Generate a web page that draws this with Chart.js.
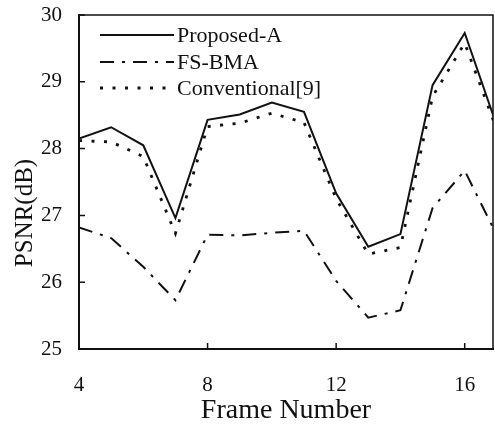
<!DOCTYPE html>
<html>
<head>
<meta charset="utf-8">
<script src="https://cdn.jsdelivr.net/npm/chart.js@4.4.1/dist/chart.umd.min.js"></script>
<style>
  html, body { margin: 0; padding: 0; background: #ffffff; }
  canvas { display: block; }
</style>
</head>
<body>
<canvas id="psnr" width="495" height="429"></canvas>
<script>
// PSNR per frame for the three motion estimation methods
const frames       = [4, 5, 6, 7, 8, 9, 10, 11, 12, 13, 14, 15, 16, 17];
const proposedA    = [28.15, 28.32, 28.05, 26.96, 28.43, 28.51, 28.69, 28.55, 27.33, 26.53, 26.72, 28.95, 29.73, 28.34];
const fsBma        = [26.82, 26.66, 26.23, 25.73, 26.71, 26.70, 26.74, 26.77, 26.02, 25.47, 25.58, 27.11, 27.67, 26.70];
const conventional = [28.12, 28.10, 27.88, 26.73, 28.33, 28.38, 28.53, 28.39, 27.25, 26.42, 26.52, 28.78, 29.58, 28.28];

const seriesNames = ['Proposed-A', 'FS-BMA', 'Conventional[9]'];
const xTickValues = [4, 8, 12, 16];
const yTickValues = [25, 26, 27, 28, 29, 30];
const xTitle = 'Frame Number';
const yTitle = 'PSNR(dB)';

const INK = '#111111';
const SERIF = '"Liberation Serif", "Times New Roman", serif';

const toPoints = (ys) => frames.map((f, i) => ({ x: f, y: ys[i] }));

// Box frame, inward tick marks, in-plot legend and the rotated y title
const paperStyle = {
  id: 'paperStyle',
  afterDatasetsDraw(chart) {
    const { ctx, chartArea: a, scales } = chart;
    ctx.save();
    ctx.strokeStyle = INK;
    ctx.setLineDash([]);

    // top and right sides of the box
    ctx.lineWidth = 1.5;
    ctx.beginPath();
    ctx.moveTo(a.left, a.top);
    ctx.lineTo(a.right, a.top);
    ctx.lineTo(a.right, a.bottom);
    ctx.stroke();

    // inward ticks
    ctx.beginPath();
    yTickValues.forEach(v => {
      const py = scales.y.getPixelForValue(v);
      ctx.moveTo(a.left, py);
      ctx.lineTo(a.left + 6, py);
    });
    xTickValues.forEach(v => {
      const px = scales.x.getPixelForValue(v);
      ctx.moveTo(px, a.bottom);
      ctx.lineTo(px, a.bottom - 6);
    });
    ctx.stroke();

    // legend inside the plot, top left
    const rowsY = [35, 62, 88];
    ctx.font = '22px ' + SERIF;
    ctx.fillStyle = INK;
    ctx.textAlign = 'left';
    ctx.textBaseline = 'alphabetic';
    chart.data.datasets.forEach((ds, i) => {
      const y = rowsY[i];
      ctx.lineWidth = ds.borderWidth;
      ctx.setLineDash(ds.borderDash || []);
      ctx.beginPath();
      ctx.moveTo(100, y);
      ctx.lineTo(174, y);
      ctx.stroke();
      ctx.setLineDash([]);
      ctx.fillText(ds.label, 177, y + 7);
    });

    // y axis title
    ctx.font = '25px ' + SERIF;
    ctx.textAlign = 'center';
    ctx.textBaseline = 'middle';
    ctx.translate(25, 213);
    ctx.rotate(-Math.PI / 2);
    ctx.fillText(yTitle, 0, 0);
    ctx.restore();
  }
};

new Chart(document.getElementById('psnr'), {
  type: 'line',
  data: {
    datasets: [
      { label: seriesNames[0], data: toPoints(proposedA), borderColor: INK, borderWidth: 2, borderDash: [] },
      { label: seriesNames[1], data: toPoints(fsBma), borderColor: INK, borderWidth: 2, borderDash: [14, 8, 3, 8] },
      { label: seriesNames[2], data: toPoints(conventional), borderColor: INK, borderWidth: 2.8, borderDash: [3, 9.5] }
    ]
  },
  options: {
    responsive: false,
    animation: false,
    devicePixelRatio: 1,
    layout: { padding: { top: 15, right: 2, bottom: 0, left: 0 } },
    elements: {
      point: { radius: 0, hoverRadius: 0 },
      line: { tension: 0, fill: false, borderCapStyle: 'butt' }
    },
    plugins: { legend: { display: false }, tooltip: { enabled: false } },
    scales: {
      x: {
        type: 'linear',
        min: 4,
        max: 16.88,
        afterBuildTicks: (s) => { s.ticks = xTickValues.map(v => ({ value: v })); },
        afterFit: (s) => { s.height = 80; s.paddingLeft = 0; s.paddingRight = 0; },
        grid: { display: true, drawOnChartArea: false, drawTicks: false },
        border: { display: true, color: INK, width: 2 },
        ticks: { color: INK, font: { family: SERIF, size: 21 }, padding: 24, maxRotation: 0 },
        title: { display: true, text: xTitle, color: INK, font: { family: SERIF, size: 28 }, padding: { top: 0, bottom: 2 } }
      },
      y: {
        min: 25,
        max: 30,
        afterBuildTicks: (s) => { s.ticks = yTickValues.map(v => ({ value: v })); },
        afterFit: (s) => { s.width = 79; s.paddingTop = 0; s.paddingBottom = 0; },
        grid: { display: true, drawOnChartArea: false, drawTicks: false },
        border: { display: true, color: INK, width: 2 },
        ticks: { color: INK, font: { family: SERIF, size: 21 }, padding: 17 }
      }
    }
  },
  plugins: [paperStyle]
});
</script>
</body>
</html>
